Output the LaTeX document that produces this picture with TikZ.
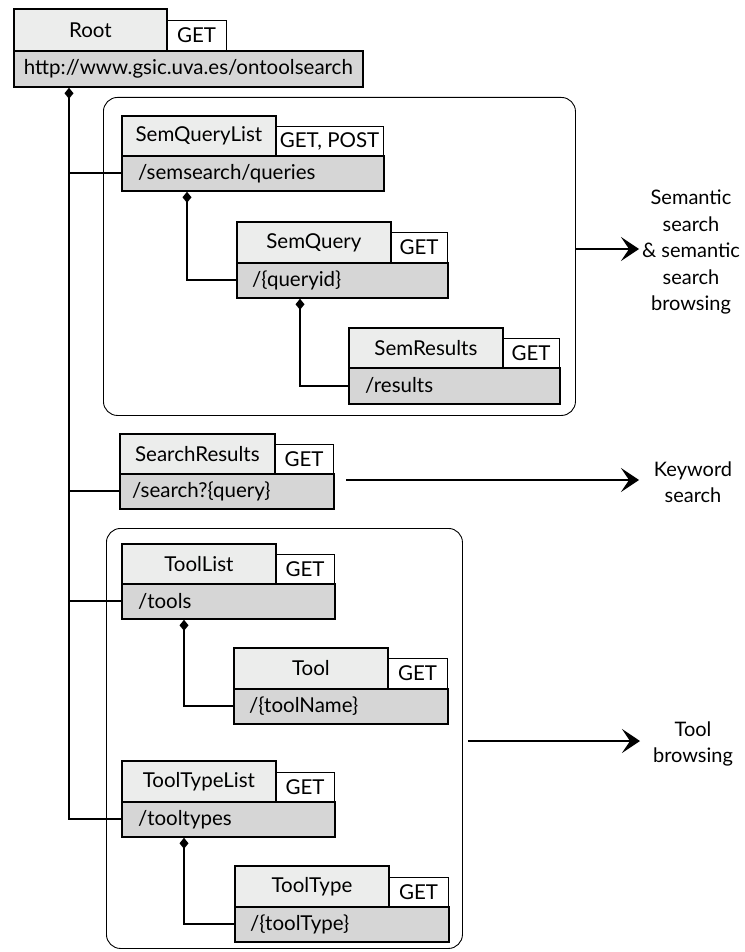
\documentclass[tikz,border=0pt]{standalone}
\usepackage{fontspec}
\setmainfont{Lato}
\usetikzlibrary{arrows.meta}
\definecolor{namefill}{RGB}{236,237,236}
\definecolor{pathfill}{RGB}{214,214,214}
\newcommand\myboxfont{\fontsize{20.5}{23}\selectfont}
\newcommand\mylblfont{\fontsize{20}{26.5}\selectfont}
\begin{document}
\begin{tikzpicture}[x=1pt,y=-1pt,
  box/.style={draw, line width=1.8pt, rectangle, inner sep=0pt, anchor=north west, font=\myboxfont},
  namebox/.style={box, fill=namefill},
  methbox/.style={box, fill=white, line width=1.1pt},
  pathbox/.style={box, fill=pathfill},
  ptext/.style={anchor=west, inner sep=0pt, font=\myboxfont},
  group/.style={draw, line width=0.9pt, rounded corners=14pt, anchor=north west, inner sep=0pt, rectangle},
  conn/.style={line width=1.9pt},
  comp/.style={conn, {Diamond[length=11pt,width=9pt]}-},
  arr/.style={line width=1.8pt, -{Stealth[length=18pt,width=24pt,inset=8pt]}},
  lbl/.style={align=center, font=\mylblfont, inner sep=0pt}
]
\useasboundingbox (0,0) rectangle (744,952);

% groups
\node[group, minimum width=472pt, minimum height=318pt] (semG) at (103,97) {};
\node[group, minimum width=356pt, minimum height=420pt] (toolG) at (106,528) {};

% Root
\node[methbox, minimum width=60pt, minimum height=30pt] (rootM) at (166,20) {GET};
\node[namebox, minimum width=153pt, minimum height=42pt] (rootN) at (13,8) {Root};
\node[pathbox, minimum width=349pt, minimum height=36pt] (rootP) at (13,50) {http://www.gsic.uva.es/ontoolsearch};

% SemQueryList
\node[methbox, minimum width=108pt, minimum height=29pt] (sqlM) at (275,126) {GET, POST};
\node[namebox, minimum width=154pt, minimum height=40pt] (sqlN) at (121,115) {SemQueryList};
\node[pathbox, minimum width=262pt, minimum height=35pt] (sqlP) at (121,155) {};
\node[ptext] (sqlT) at ([xshift=17pt]sqlP.west) {/semsearch/queries};

% SemQuery
\node[methbox, minimum width=57pt, minimum height=30pt] (sqM) at (390,232) {GET};
\node[namebox, minimum width=154pt, minimum height=41pt] (sqN) at (236,221) {SemQuery};
\node[pathbox, minimum width=211pt, minimum height=35pt] (sqP) at (236,262) {};
\node[ptext] (sqT) at ([xshift=16pt]sqP.west) {/\{queryid\}};

% SemResults
\node[methbox, minimum width=57pt, minimum height=29pt] (srsM) at (502,338) {GET};
\node[namebox, minimum width=154pt, minimum height=40pt] (srsN) at (348,327) {SemResults};
\node[pathbox, minimum width=211pt, minimum height=36pt] (srsP) at (348,367) {};
\node[ptext] (srsT) at ([xshift=17pt]srsP.west) {/results};

% SearchResults
\node[methbox, minimum width=59pt, minimum height=29pt] (srM) at (274,444) {GET};
\node[namebox, minimum width=155pt, minimum height=40pt] (srN) at (119,433) {SearchResults};
\node[pathbox, minimum width=214pt, minimum height=35pt] (srP) at (119,473) {};
\node[ptext] (srT) at ([xshift=13pt]srP.west) {/search?\{query\}};

% ToolList
\node[methbox, minimum width=59pt, minimum height=29pt] (tlM) at (275,554) {GET};
\node[namebox, minimum width=154pt, minimum height=40pt] (tlN) at (121,543) {ToolList};
\node[pathbox, minimum width=213pt, minimum height=35pt] (tlP) at (121,583) {};
\node[ptext] (tlT) at ([xshift=17pt]tlP.west) {/tools};

% Tool
\node[methbox, minimum width=60pt, minimum height=30pt] (tM) at (387,658) {GET};
\node[namebox, minimum width=154pt, minimum height=41pt] (tN) at (233,647) {Tool};
\node[pathbox, minimum width=214pt, minimum height=35pt] (tP) at (233,688) {};
\node[ptext] (tT) at ([xshift=16pt]tP.west) {/\{toolName\}};

% ToolTypeList
\node[methbox, minimum width=59pt, minimum height=29pt] (ttlM) at (275,772) {GET};
\node[namebox, minimum width=154pt, minimum height=41pt] (ttlN) at (121,760) {ToolTypeList};
\node[pathbox, minimum width=213pt, minimum height=35pt] (ttlP) at (121,801) {};
\node[ptext] (ttlT) at ([xshift=17pt]ttlP.west) {/tooltypes};

% ToolType
\node[methbox, minimum width=60pt, minimum height=29pt] (ttM) at (388,877) {GET};
\node[namebox, minimum width=154pt, minimum height=41pt] (ttN) at (234,865) {ToolType};
\node[pathbox, minimum width=214pt, minimum height=35pt] (ttP) at (234,906) {};
\node[ptext] (ttT) at ([xshift=16pt]ttP.west) {/\{toolType\}};

% trunk
\coordinate (trunk) at ([xshift=56pt]rootP.south west);
\draw[comp] (trunk) -- (trunk |- ttlP.west) -- (ttlP.west);
\draw[conn] (trunk |- sqlP.west) -- (sqlP.west);
\draw[conn] (trunk |- srP.west) -- (srP.west);
\draw[conn] (trunk |- tlP.west) -- (tlP.west);

% sub-resources
\draw[comp] ([xshift=66pt]sqlP.south west) |- (sqP.west);
\draw[comp] ([xshift=64pt]sqP.south west) |- (srsP.west);
\draw[comp] ([xshift=63pt]tlP.south west) |- (tP.west);
\draw[comp] ([xshift=63pt]ttlP.south west) |- (ttP.west);

% labels
\node[lbl] (semL) at (691,252) {Semantic\\search\\\& semantic\\search\\browsing};
\node[lbl] (kwL) at (693,482) {Keyword\\search};
\node[lbl] (toolL) at (693,744) {Tool\\browsing};

\coordinate (semTip) at (639,249);
\coordinate (kwTip) at (639,480);
\coordinate (toolTip) at (640,741);

\draw[arr] (semG.east |- semTip) -- (semTip);
\draw[arr] ([xshift=12pt]srM.east |- kwTip) -- (kwTip);
\draw[arr] ([xshift=5pt]toolG.east |- toolTip) -- (toolTip);
\end{tikzpicture}
\end{document}
